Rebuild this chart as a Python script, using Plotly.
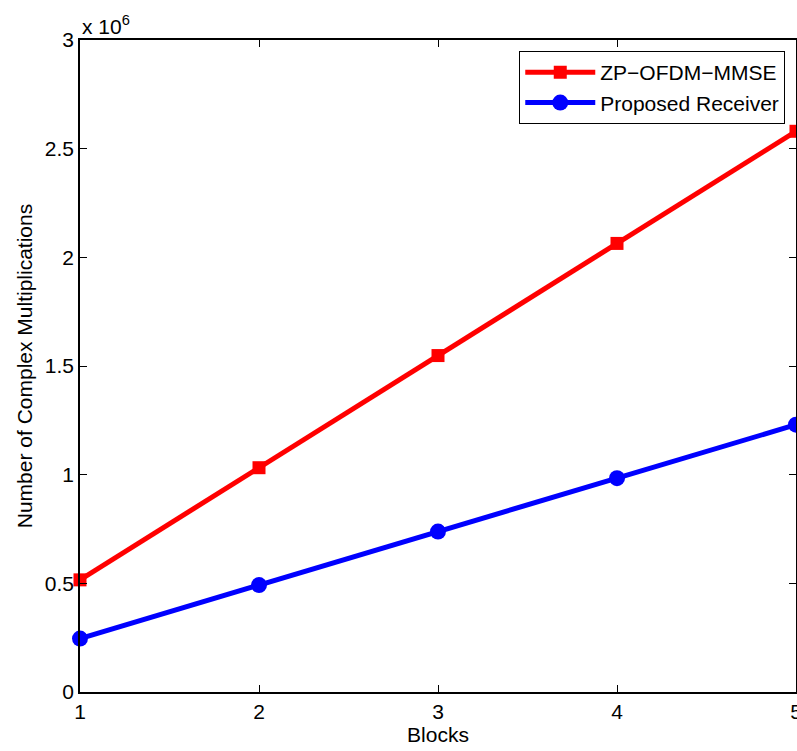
import plotly.graph_objects as go

blocks = [1, 2, 3, 4, 5]
zp_ofdm_mmse = [516000, 1032000, 1548000, 2064000, 2580000]
proposed = [246000, 492000, 738000, 984000, 1230000]
ytick_vals = [0, 500000, 1000000, 1500000, 2000000, 2500000, 3000000]
ytick_text = ["0", "0.5", "1", "1.5", "2", "2.5", "3"]

font = dict(family="Liberation Sans, Arial, sans-serif", size=21, color="black")

fig = go.Figure()
fig.add_trace(go.Scatter(x=blocks, y=zp_ofdm_mmse, mode="lines+markers", name="ZP\u2212OFDM\u2212MMSE",
                         line=dict(color="#ff0000", width=5),
                         marker=dict(symbol="square", size=13, color="#ff0000"),
                         cliponaxis=False))
fig.add_trace(go.Scatter(x=blocks, y=proposed, mode="lines+markers", name="Proposed Receiver",
                         line=dict(color="#0000ff", width=5),
                         marker=dict(symbol="circle", size=16, color="#0000ff"),
                         cliponaxis=False))

axis_common = dict(showgrid=False, zeroline=False, showline=True, linecolor="black", linewidth=1.5,
                   mirror="ticks", ticks="inside", ticklen=7, tickcolor="black", tickwidth=1,
                   tickfont=font, ticklabeloverflow="allow", automargin=False)
fig.update_xaxes(range=[1, 5], tickvals=blocks, title=dict(text="Blocks", font=font, standoff=2),
                 **axis_common)
fig.update_yaxes(range=[0, 3000000], tickvals=ytick_vals, ticktext=ytick_text,
                 title=dict(text="Number of Complex Multiplications", font=font, standoff=6),
                 **axis_common)

fig.add_annotation(x=0, y=1, xref="paper", yref="paper", xanchor="left", yanchor="bottom",
                   text="x 10<sup>6</sup>", showarrow=False, font=font, yshift=0)

fig.update_layout(width=797, height=751, margin=dict(l=80, r=1, t=40, b=59, autoexpand=False),
                  plot_bgcolor="white", paper_bgcolor="white", font=font,
                  legend=dict(x=0.985, y=0.983, xanchor="right", yanchor="top",
                              bordercolor="black", borderwidth=1, bgcolor="white",
                              font=font, tracegroupgap=0, itemwidth=70))

fig.write_html("out.html")
